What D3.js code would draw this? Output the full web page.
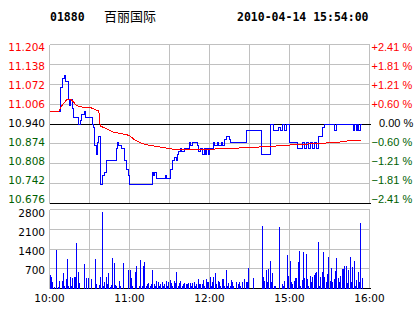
<!DOCTYPE html>
<html>
<head>
<meta charset="utf-8">
<script src="https://cdn.jsdelivr.net/npm/d3@7"></script>
<style>
  html, body { margin: 0; padding: 0; background: #fff; }
  svg { display: block; }
  text { font-family: "DejaVu Sans", sans-serif; font-size: 10.5px; }
</style>
</head>
<body>
<div id="chart"></div>
<script>
// header
const stockCode = "01880";
const stockName = "百丽国际";
const stamp = "2010-04-14 15:54:00";

// axes
const prevClose = 10.94;
const priceTicks = [11.204, 11.138, 11.072, 11.006, 10.940, 10.874, 10.808, 10.742, 10.676];
const pctTicks = ["+2.41 %", "+1.81 %", "+1.21 %", "+0.60 %", "0.00 %", "−0.60 %", "−1.21 %", "−1.81 %", "−2.41 %"];
const volTicks = [2800, 2100, 1400, 700];
const timeTicks = ["10:00", "11:00", "12:00", "15:00", "16:00"];

// last price (step changes)
const priceLine = [
  ["10:00", 10.98], ["10:08", 11.06], ["10:10", 11.09], ["10:11", 11.10], ["10:12", 11.08],
  ["10:14", 11.02], ["10:15", 11.00], ["10:16", 11.02], ["10:17", 10.99], ["10:18", 10.96],
  ["10:22", 10.94], ["10:23", 10.95], ["10:24", 10.97], ["10:26", 10.98], ["10:27", 10.96],
  ["10:32", 10.94], ["10:33", 10.93], ["10:34", 10.87], ["10:35", 10.84], ["10:36", 10.88],
  ["10:37", 10.90], ["10:38", 10.74], ["10:40", 10.77], ["10:41", 10.78], ["10:43", 10.82],
  ["10:50", 10.86], ["10:51", 10.88], ["10:52", 10.87], ["10:54", 10.86], ["10:56", 10.82],
  ["10:58", 10.79], ["10:59", 10.77], ["11:00", 10.74], ["11:17", 10.78], ["11:18", 10.77],
  ["11:19", 10.78], ["11:20", 10.76], ["11:27", 10.77], ["11:28", 10.76], ["11:31", 10.79],
  ["11:32", 10.82], ["11:34", 10.83], ["11:35", 10.82], ["11:36", 10.84], ["11:37", 10.85],
  ["11:38", 10.86], ["11:39", 10.85], ["11:41", 10.86], ["11:45", 10.88], ["11:46", 10.87],
  ["11:47", 10.88], ["11:51", 10.87], ["11:52", 10.85], ["11:53", 10.86], ["11:55", 10.84],
  ["11:56", 10.86], ["11:57", 10.84], ["11:58", 10.86], ["11:59", 10.84], ["12:00", 10.86],
  ["12:03", 10.88], ["12:04", 10.87], ["12:06", 10.88], ["12:07", 10.87], ["12:09", 10.88],
  ["12:10", 10.87], ["12:11", 10.89], ["12:13", 10.90], ["12:15", 10.89], ["12:16", 10.88],
  ["12:28", 10.92], ["14:39", 10.84], ["14:46", 10.94], ["14:48", 10.92], ["14:52", 10.93],
  ["14:53", 10.92], ["14:55", 10.94], ["14:56", 10.92], ["14:58", 10.94], ["15:00", 10.88],
  ["15:06", 10.86], ["15:10", 10.88], ["15:11", 10.86], ["15:13", 10.88], ["15:14", 10.86],
  ["15:16", 10.88], ["15:17", 10.86], ["15:19", 10.88], ["15:20", 10.86], ["15:22", 10.90],
  ["15:25", 10.93], ["15:26", 10.94], ["15:34", 10.92], ["15:35", 10.94], ["15:48", 10.92],
  ["15:49", 10.94], ["15:50", 10.92], ["15:51", 10.94], ["15:52", 10.92], ["15:53", 10.94],
  ["15:54", 10.94]
];

// average price
const avgLine = [
  ["10:00", 10.983], ["10:07", 10.983], ["10:09", 11.00], ["10:11", 11.01], ["10:13", 11.022],
  ["10:16", 11.022], ["10:18", 11.013], ["10:20", 11.002], ["10:23", 10.997], ["10:31", 10.994],
  ["10:34", 10.988], ["10:37", 10.983], ["10:38", 10.933], ["10:41", 10.928], ["10:44", 10.922],
  ["10:48", 10.913], ["10:56", 10.906], ["10:59", 10.903], ["11:01", 10.898], ["11:04", 10.887],
  ["11:09", 10.876], ["11:14", 10.870], ["11:24", 10.863], ["11:33", 10.856], ["11:59", 10.856],
  ["12:21", 10.860], ["14:30", 10.862], ["14:44", 10.865], ["14:59", 10.870], ["15:24", 10.876],
  ["15:36", 10.879], ["15:44", 10.884], ["15:54", 10.887]
];

// volume per minute
const volume = [
  ["10:00", 495], ["10:01", 425], ["10:02", 225], ["10:03", 70], ["10:05", 1380], ["10:06", 70],
  ["10:07", 283], ["10:09", 283], ["10:10", 540], ["10:11", 100], ["10:12", 330], ["10:13", 1040],
  ["10:14", 95], ["10:15", 400], ["10:16", 95], ["10:17", 365], ["10:18", 400], ["10:19", 425],
  ["10:20", 1600], ["10:21", 600], ["10:22", 190], ["10:26", 860], ["10:27", 365], ["10:29", 365],
  ["10:31", 330], ["10:34", 1060], ["10:35", 165], ["10:37", 130], ["10:38", 400], ["10:39", 2700],
  ["10:40", 95], ["10:41", 248], ["10:42", 400], ["10:43", 165], ["10:44", 543], ["10:45", 70],
  ["10:46", 130], ["10:47", 1075], ["10:48", 897], ["10:49", 130], ["10:50", 95], ["10:52", 283],
  ["10:53", 95], ["10:55", 897], ["10:59", 638], ["11:00", 638], ["11:01", 365], ["11:02", 100],
  ["11:04", 590], ["11:05", 815], ["11:07", 95], ["11:08", 1015], ["11:09", 95], ["11:10", 815],
  ["11:11", 955], ["11:12", 95], ["11:13", 165], ["11:14", 200], ["11:15", 95], ["11:16", 165],
  ["11:17", 670], ["11:18", 165], ["11:19", 95], ["11:20", 283], ["11:21", 240], ["11:22", 95],
  ["11:23", 165], ["11:24", 240], ["11:25", 95], ["11:26", 165], ["11:27", 283], ["11:28", 95],
  ["11:29", 240], ["11:30", 300], ["11:31", 200], ["11:32", 95], ["11:33", 283], ["11:34", 180],
  ["11:35", 600], ["11:36", 95], ["11:37", 200], ["11:38", 283], ["11:39", 106], ["11:40", 165],
  ["11:41", 189], ["11:42", 165], ["11:43", 142], ["11:44", 189], ["11:45", 189], ["11:46", 106],
  ["11:47", 189], ["11:48", 224], ["11:49", 106], ["11:50", 165], ["11:51", 343], ["11:52", 165],
  ["11:53", 165], ["11:54", 142], ["11:55", 307], ["11:56", 106], ["11:57", 343], ["11:58", 224],
  ["11:59", 248], ["12:00", 402], ["12:01", 106], ["12:02", 224], ["12:03", 425], ["12:04", 540],
  ["12:05", 142], ["12:06", 283], ["12:07", 224], ["12:08", 106], ["12:09", 319], ["12:10", 319],
  ["12:11", 106], ["12:12", 640], ["12:13", 106], ["12:14", 189], ["12:15", 106], ["12:16", 307],
  ["12:17", 224], ["12:18", 106], ["12:20", 248], ["12:21", 165], ["12:22", 224], ["12:23", 106],
  ["12:24", 248], ["12:26", 319], ["12:27", 248], ["12:28", 248], ["12:29", 730],
  ["14:33", 378], ["14:39", 2230], ["14:40", 425], ["14:41", 283], ["14:42", 640], ["14:43", 224],
  ["14:44", 700], ["14:45", 990], ["14:46", 224], ["14:47", 540], ["14:48", 106], ["14:49", 106],
  ["14:52", 2170], ["14:54", 142], ["14:55", 71], ["14:56", 260], ["14:58", 1170], ["14:59", 460],
  ["15:00", 990], ["15:01", 224], ["15:02", 165], ["15:03", 283], ["15:04", 378], ["15:05", 378],
  ["15:06", 955], ["15:07", 1345], ["15:08", 106], ["15:09", 307], ["15:10", 1285], ["15:11", 378],
  ["15:12", 1225], ["15:13", 343], ["15:14", 106], ["15:15", 460], ["15:16", 224], ["15:17", 402],
  ["15:18", 495], ["15:19", 540], ["15:20", 580], ["15:21", 1640], ["15:22", 71], ["15:23", 425],
  ["15:24", 580], ["15:25", 1285], ["15:26", 402], ["15:27", 224], ["15:28", 520], ["15:29", 1110],
  ["15:30", 283], ["15:31", 730], ["15:32", 224], ["15:33", 343], ["15:34", 610], ["15:35", 1075],
  ["15:36", 378], ["15:37", 224], ["15:38", 460], ["15:39", 700], ["15:40", 700], ["15:41", 780],
  ["15:42", 780], ["15:43", 189], ["15:44", 640], ["15:45", 1130], ["15:46", 224], ["15:47", 750],
  ["15:48", 970], ["15:49", 106], ["15:50", 307], ["15:51", 590], ["15:52", 224], ["15:53", 2310],
  ["15:54", 378]
];

const W = 414, H = 314;
const upColor = "#ff0000", downColor = "#006000", gridColor = "#c0c0c0";

// trading minutes since 10:00, lunch break 12:30-14:30 removed
function tmin (s) {
  const [h, m] = s.split(":").map(Number);
  const t = h * 60 + m;
  return t >= 14 * 60 + 30 ? t - 720 : t - 600;
}

const svg = d3.select("#chart").append("svg")
  .attr("width", W).attr("height", H);

const x = d3.scaleLinear().domain([0, 240]).range([49.5, 369.5]);
const y = d3.scaleLinear().domain([priceTicks[8], priceTicks[0]]).range([203.5, 44.5]);
const yv = d3.scaleLinear().domain([0, 2800]).range([288.5, 209.5]);

// labels sit on a slightly tighter band than the grid lines
const yLab = d3.scaleLinear().domain([priceTicks[8], priceTicks[0]]).range([203.3, 50.8]);
const yvLab = d3.scaleLinear().domain([700, 2800]).range([274, 216.8]);

const px = v => Math.round(v - 0.5) + 0.5;

// header text
svg.append("text").attr("x", 50).attr("y", 20.5)
  .style("font-family", "'DejaVu Sans Mono', monospace").style("font-weight", "bold")
  .style("font-size", "11.5px").text(stockCode);
svg.append("text").attr("x", 104).attr("y", 21)
  .style("font-family", "'Noto Sans CJK SC', sans-serif").style("font-size", "13px")
  .text(stockName);
svg.append("text").attr("x", 237).attr("y", 20.5)
  .style("font-family", "'DejaVu Sans Mono', monospace").style("font-weight", "bold")
  .style("font-size", "11.5px").text(stamp);

const grid = svg.append("g").attr("stroke", gridColor).attr("shape-rendering", "crispEdges");
const halfHours = d3.range(0, 241, 30);

// price panel grid
grid.selectAll(".hp").data(priceTicks).enter().append("line")
  .attr("x1", x(0)).attr("x2", x(240))
  .attr("y1", d => px(y(d))).attr("y2", d => px(y(d)));
grid.selectAll(".vp").data(halfHours).enter().append("line")
  .attr("x1", d => px(x(d))).attr("x2", d => px(x(d)))
  .attr("y1", y(priceTicks[0])).attr("y2", y(priceTicks[8]));

// volume panel grid
grid.selectAll(".hv").data(volTicks.concat([0])).enter().append("line")
  .attr("x1", x(0)).attr("x2", x(240))
  .attr("y1", d => px(yv(d))).attr("y2", d => px(yv(d)));
grid.selectAll(".vv").data(halfHours).enter().append("line")
  .attr("x1", d => px(x(d))).attr("x2", d => px(x(d)))
  .attr("y1", yv(2800)).attr("y2", yv(0));

// black reference lines
const blk = svg.append("g").attr("stroke", "#000").attr("shape-rendering", "crispEdges");
[px(y(prevClose)), px(y(priceTicks[8])), px(yv(0))].forEach(yy => {
  blk.append("line").attr("x1", x(0)).attr("x2", x(240) + 1).attr("y1", yy).attr("y2", yy);
});

// volume bars
svg.append("g").attr("fill", "#0000ff").attr("shape-rendering", "crispEdges")
  .selectAll("rect").data(volume).enter().append("rect")
  .attr("x", d => Math.round(x(tmin(d[0]))))
  .attr("width", 1)
  .attr("y", d => yv(d[1]))
  .attr("height", d => yv(0) - yv(d[1]));

// price and average lines
const priceFn = d3.line()
  .x(d => x(tmin(d[0])))
  .y(d => px(y(d[1])))
  .curve(d3.curveStepAfter);
svg.append("path").datum(priceLine)
  .attr("d", priceFn).attr("fill", "none").attr("stroke", "#0000ff")
  .attr("stroke-width", 1).attr("shape-rendering", "crispEdges");

const avgFn = d3.line()
  .x(d => x(tmin(d[0])))
  .y(d => y(d[1]));
svg.append("path").datum(avgLine)
  .attr("d", avgFn).attr("fill", "none").attr("stroke", "#ff0000")
  .attr("stroke-width", 1).attr("shape-rendering", "crispEdges");

// left price labels
const tickColor = (d) => d > prevClose + 1e-9 ? upColor : (d < prevClose - 1e-9 ? downColor : "#000");
svg.selectAll(".pl").data(priceTicks).enter().append("text")
  .attr("x", 45).attr("y", d => yLab(d))
  .attr("text-anchor", "end").attr("fill", tickColor)
  .text(d => d.toFixed(3));

// right percent labels (narrower face so they fit the right margin)
svg.selectAll(".rl").data(pctTicks).enter().append("text")
  .attr("x", (d, i) => i === 4 ? 379 : 371.5)
  .attr("y", (d, i) => yLab(priceTicks[i]))
  .attr("fill", (d, i) => tickColor(priceTicks[i]))
  .style("font-family", "'Liberation Sans', Arial, sans-serif")
  .style("font-size", "11px")
  .text(d => d);

// volume labels
svg.selectAll(".vl").data(volTicks).enter().append("text")
  .attr("x", 45).attr("y", d => yvLab(d))
  .attr("text-anchor", "end")
  .text(d => d);

// time labels
svg.selectAll(".tl").data(timeTicks).enter().append("text")
  .attr("x", d => x(tmin(d)))
  .attr("y", 302)
  .attr("text-anchor", "middle")
  .text(d => d);
</script>
</body>
</html>
